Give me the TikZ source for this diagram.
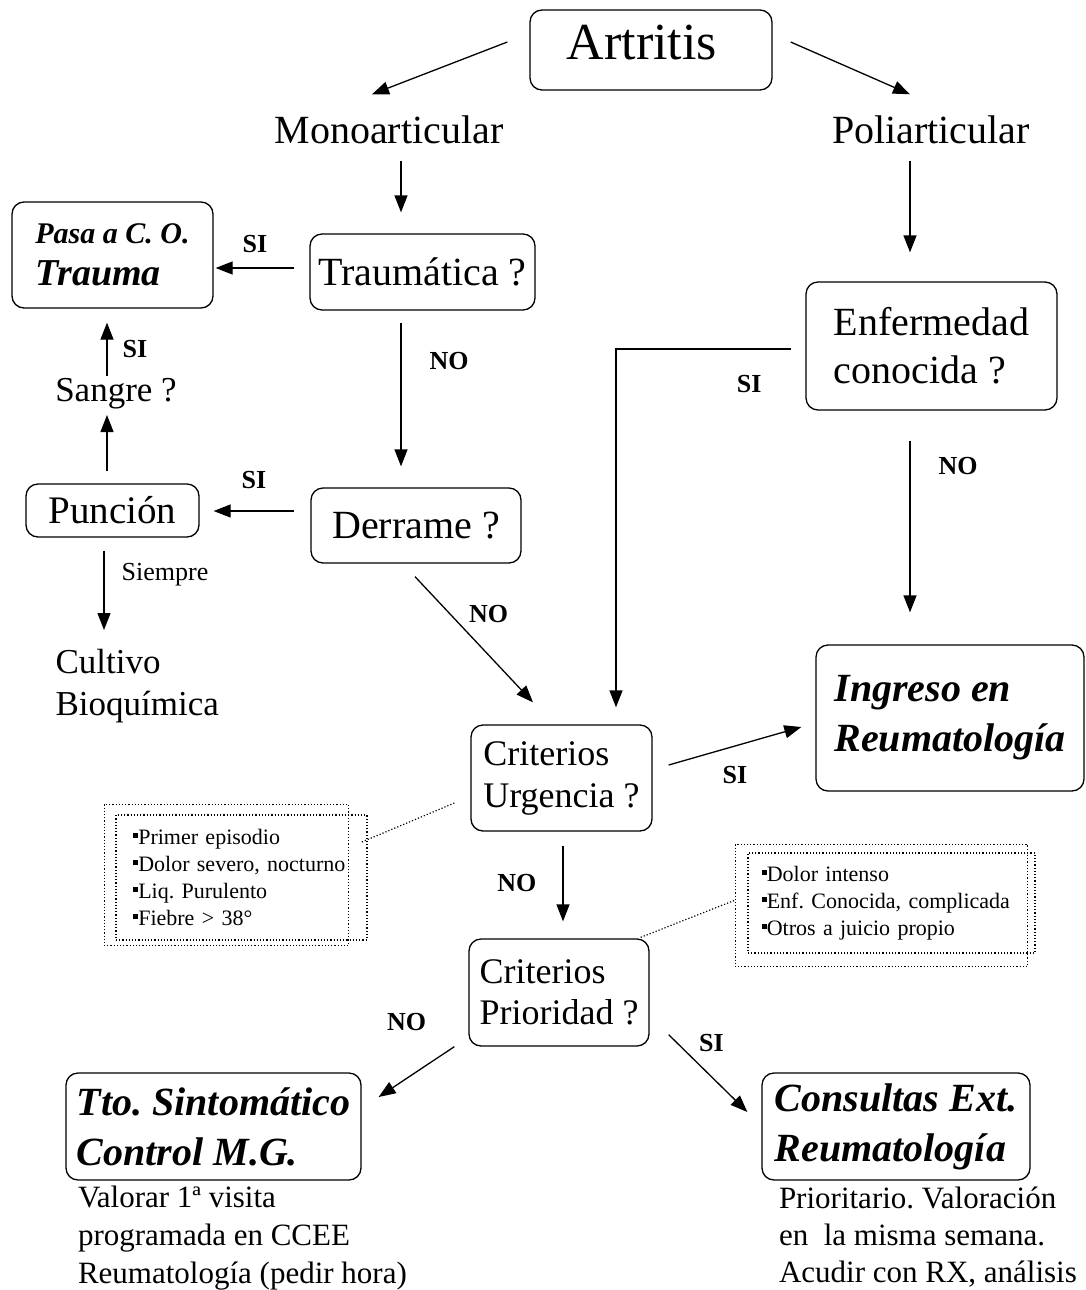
\documentclass[tikz,border=0pt]{standalone}
\usepackage{fontspec}
\setmainfont{Liberation Serif}
\usetikzlibrary{calc,arrows.meta,positioning}

\newcommand{\fsz}[2]{\fontsize{#1}{#2}\selectfont}
\newcommand{\cuadro}{\rule[0.28em]{0.24em}{0.24em}}

\begin{document}
\frenchspacing
\begin{tikzpicture}[x=1pt,y=-1pt,line width=1.3pt,
  >={Triangle[length=17pt,width=13pt]},
  box/.style={draw, rounded corners=12pt, align=center, inner sep=0pt},
  salida/.style={box, font=\fsz{40}{50}\bfseries\itshape, align=left},
  txt/.style={inner sep=0pt, align=left},
  yn/.style={font=\fsz{26}{30}\bfseries, inner sep=0pt},
  nota/.style={draw, dotted, line width=1.2pt, inner ysep=0pt, align=left, font=\fsz{22}{27}}]
  \useasboundingbox (0,0) rectangle (1086,1290);

  % cajas y textos
  \node[box, minimum width=242pt, minimum height=80pt, text depth=16pt, font=\fsz{52}{60}] (artritis) at (651,50) {\hspace*{-18pt}Artritis};
  \node[txt, font=\fsz{40}{48}] (mono) at (389,130) {Monoarticular};
  \node[txt, font=\fsz{40}{48}] (poli) at (931,130) {Poliarticular};

  \node[box, minimum width=225pt, minimum height=76pt, font=\fsz{40}{48}] (traum) at (422.5,272) {Traumática ?};
  \node[box, align=left, minimum width=201pt, minimum height=106pt, font=\fsz{38}{42}\bfseries\itshape] (pasa) at (112.5,255) {{\fsz{30}{36}Pasa a C. O.}\\Trauma};
  \node[txt, font=\fsz{35}{42}] (sangre) at (116,394) {Sangre ?};
  \node[box, minimum width=173pt, minimum height=53pt, font=\fsz{39}{46}] (puncion) at (112.5,510.5) {Punción};
  \node[txt, anchor=north west, font=\fsz{35}{42}] (cultivo) at (55,649) {Cultivo\\Bioquímica};
  \node[box, minimum width=210pt, minimum height=75pt, font=\fsz{40}{48}] (derrame) at (416,525.5) {Derrame ?};

  \node[box, align=left, minimum width=251pt, minimum height=128pt, font=\fsz{40}{48}] (enf) at (931.5,346) {Enfermedad\\conocida ?};
  \node[salida, minimum width=268pt, minimum height=146pt] (ingreso) at (950,718) {Ingreso en\\Reumatología};

  \node[box, align=left, minimum width=181pt, minimum height=106pt, font=\fsz{36}{42}] (urg) at (561.5,778) {Criterios\\Urgencia ?};
  \node[box, align=left, minimum width=180pt, minimum height=107pt, font=\fsz{36}{41}] (prio) at (559,992.5) {Criterios\\Prioridad ?};

  \node[salida, minimum width=295pt, minimum height=107pt] (tto) at (213.5,1126.5) {Tto. Sintomático\\Control M.G.};
  \node[salida, minimum width=268pt, minimum height=107pt] (cons) at (896,1126.5) {Consultas Ext.\\Reumatología};
  \node[txt, anchor=north west, font=\fsz{31}{38}] (ttonota) at ($(tto.south west)+(12,5)$) {Valorar 1ª visita\\programada en CCEE\\Reumatología (pedir hora)};
  \node[txt, anchor=north west, font=\fsz{31}{37}] (consnota) at ($(cons.south west)+(17,6)$) {Prioritario. Valoración\\en\ \ la misma semana.\\Acudir con RX, análisis};

  % criterios punteados
  \node[nota, text width=217pt, inner xsep=17pt, minimum height=125pt] (crit1) at (241.5,877.5)
    {\cuadro Primer episodio\\\cuadro Dolor severo, nocturno\\\cuadro Liq. Purulento\\\cuadro Fiebre > 38°};
  \draw[dotted, line width=1.2pt] ($(crit1.north west)+(-11,-10)$) rectangle ($(crit1.south east)+(-19,5)$);
  \node[nota, text width=260pt, inner xsep=13.5pt, minimum height=100pt] (crit2) at (891.5,903)
    {\cuadro Dolor intenso\\\cuadro Enf. Conocida, complicada\\\cuadro Otros a juicio propio};
  \draw[dotted, line width=1.2pt] ($(crit2.north west)+(-12,-8)$) rectangle ($(crit2.south east)+(-8,13)$);
  \draw[dotted, line width=1.2pt] ($(urg.west)+(-16,25)$) -- ($(crit1.east)+(-7,-35)$);
  \draw[dotted, line width=1.2pt] ($(prio.north east)+(-9,-1)$) -- ($(crit2.west)+(-12,-3)$);

  % flechas
  \draw[->] ($(artritis.west)+(-22,-8)$) -- ($(mono.north)+(-17,-21)$);
  \draw[->] ($(artritis.east)+(18,-8)$) -- ($(poli.north)+(-21,-21)$);
  \draw[->] ($(mono.south)+(12,16)$) -- ($(traum.north)+(-21.5,-21)$);
  \draw[->] ($(traum.west)+(-15,-4)$) -- ($(pasa.east)+(2,13)$) node[midway, above=15pt, yn] {SI};
  \draw[->] ($(traum.south)+(-21.5,12)$) -- ($(derrame.north)+(-15,-21)$) node[pos=0.27, right=28pt, yn] {NO};
  \draw[->] ($(derrame.west)+(-16,-14.5)$) -- ($(puncion.east)+(14,0.5)$) node[midway, above=22pt, yn] {SI};
  \draw[->] ($(puncion.north)+(-5.5,-12)$) -- ($(sangre.south)+(-9,5)$);
  \draw[->] ($(sangre.north)+(-9,-2)$) -- ($(pasa.south)+(-5.5,14)$) node[midway, right=15pt, yn] {SI};
  \draw[->] ($(puncion.south)+(-8.5,13)$) -- ($(cultivo.north west)+(49,-19)$) node[pos=0.3, right=17pt, inner sep=0pt, font=\fsz{26}{30}] {Siempre};
  \draw[->] ($(derrame.south)+(-1,13)$) -- ($(urg.north)+(-28.5,-22)$) node[pos=0.3, right=18pt, yn] {NO};
  \draw[->] ($(poli.south)+(-21,16)$) -- ($(enf.north)+(-21.5,-29)$);
  \draw[->] ($(enf.west)+(-14,3)$) -| ($(urg.north)+(54.5,-17)$) node[pos=0.12, below=26pt, yn] {SI};
  \draw[->] ($(enf.south)+(-21.5,30)$) -- ($(ingreso.north)+(-40,-32)$) node[pos=0.15, right=28pt, yn] {NO};
  \draw[->] ($(urg.east)+(16,-13)$) -- ($(ingreso.west)+(-14,9)$) node[midway, below=20pt, yn] {SI};
  \draw[->] ($(urg.south)+(1.5,14)$) -- ($(prio.north)+(4,-17)$) node[midway, left=26pt, yn] {NO};
  \draw[->] ($(prio.south west)+(-14,0)$) -- ($(tto.east)+(17,-29.5)$) node[pos=0.1, above left=20pt and 20pt, yn] {NO};
  \draw[->] ($(prio.south east)+(19,-12)$) -- ($(cons.west)+(-14,-14.5)$) node[pos=0.2, right=14pt, yshift=7pt, yn] {SI};
\end{tikzpicture}
\end{document}
